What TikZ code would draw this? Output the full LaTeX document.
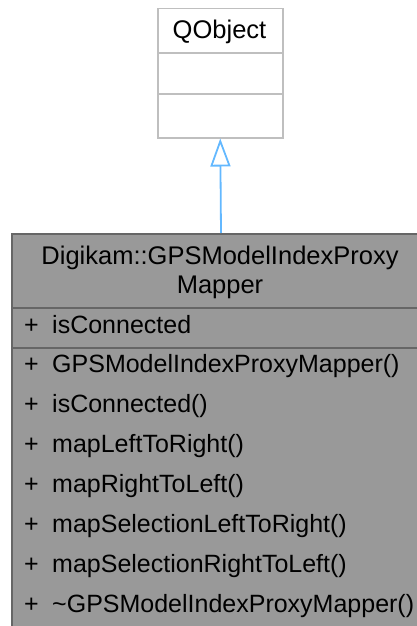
\documentclass[tikz,border=0pt]{standalone}
\usepackage{fontspec}
\setmainfont{Liberation Sans}
\usetikzlibrary{arrows.meta,positioning}
\definecolor{clsfill}{HTML}{999999}
\definecolor{clsedge}{HTML}{666666}
\definecolor{baseedge}{HTML}{BFBFBF}
\definecolor{inherit}{HTML}{63B8FF}
\tikzset{
  basebox/.style={draw=baseedge, line width=1.5pt, fill=white, minimum width=125pt,
                  minimum height=129pt, inner sep=0pt, anchor=north west},
  mainbox/.style={draw=clsedge, line width=2pt, fill=clsfill, minimum width=418pt,
                  minimum height=420pt, inner sep=0pt, anchor=north west},
  cname/.style={font=\fontsize{25.5}{29.5}\selectfont, align=center, inner sep=0pt},
  member/.style={anchor=west, font=\fontsize{25}{29}\selectfont, inner sep=0pt,
                 text height=19pt, text depth=6pt},
  inherits/.style={-{Triangle[open, length=28pt, width=20pt]}, draw=inherit, line width=1.8pt}
}

\begin{document}
\begin{tikzpicture}[x=1pt, y=1pt]
    \useasboundingbox (0,0) rectangle (417,-626);

    %% Base class
    \node[basebox] (qobj) at (157,-8) {};
    \node[cname] (qname) at (219.5,-32) {QObject};
    \draw[baseedge, line width=1.5pt] (157,-53) -- (282,-53);
    \draw[baseedge, line width=1.5pt] (157,-94) -- (282,-94);

    %% Derived class
    \node[mainbox] (mapper) at (11,-233) {};
    \node[cname] (mname) at (220,-272.5) {Digikam::GPSModelIndexProxy\\Mapper};
    \draw[clsedge, line width=2pt] (11,-308) -- (429,-308);
    \draw[clsedge, line width=2pt] (11,-348) -- (429,-348);

    %% Attributes
    \node[member] (attrplus) at (24,-327) {+};
    \node[member] (attr) at (52,-327) {isConnected};

    %% Methods
    \foreach \name [count=\i from 0] in {GPSModelIndexProxyMapper(), isConnected(),
        mapLeftToRight(), mapRightToLeft(), mapSelectionLeftToRight(),
        mapSelectionRightToLeft(), \textasciitilde GPSModelIndexProxyMapper()} {
      \node[member] (mplus\i) at (24,-366-40*\i) {+};
      \node[member] (meth\i) at (52,-366-40*\i) {\name};
    }

    \draw[inherits] (mapper.north) -- (qobj.south);
\end{tikzpicture}
\end{document}
